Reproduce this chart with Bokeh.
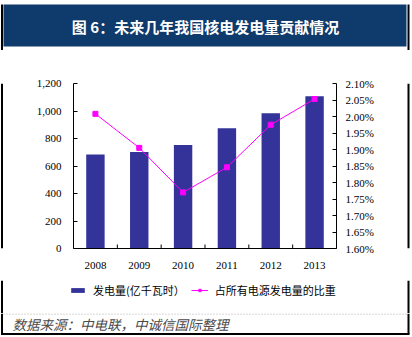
from bokeh.plotting import figure
from bokeh.layouts import column, row
from bokeh.models import (Range1d, LinearAxis, FixedTicker, NumeralTickFormatter,
                          PrintfTickFormatter, Legend, LegendItem, ColumnDataSource)
from bokeh.core.properties import value
from bokeh.transform import dodge
from bokeh.embed import file_html
from bokeh.resources import INLINE

# ---- data ----
years = ["2008", "2009", "2010", "2011", "2012", "2013"]
generation = [684, 701, 752, 875, 983, 1107]            # 发电量(亿千瓦时)
share_pct = [2.008, 1.905, 1.770, 1.846, 1.975, 2.053]  # 占所有电源发电量的比重 (%)
left_ticks = [0, 200, 400, 600, 800, 1000, 1200]
right_ticks = [1.60, 1.65, 1.70, 1.75, 1.80, 1.85, 1.90, 1.95, 2.00, 2.05, 2.10]
title_text = "图 6：未来几年我国核电发电量贡献情况"
source_text = "数据来源：中电联，中诚信国际整理"
bar_label = "发电量(亿千瓦时）"
line_label = "占所有电源发电量的比重"

SERIF = "Liberation Serif"
CJK = "Noto Sans CJK SC"
NAVY = "#0E3A6C"
BAR = "#333399"
LINE = "#FF00FF"


def strip(w, h):
    f = figure(width=w, height=h, x_range=Range1d(0, w), y_range=Range1d(h, 0),
               output_backend="svg", toolbar_location=None,
               x_axis_location=None, y_axis_location=None,
               min_border=0, min_border_left=0, min_border_right=0,
               min_border_top=0, min_border_bottom=0)
    f.outline_line_color = None
    f.xgrid.visible = False
    f.ygrid.visible = False
    f.background_fill_color = "white"
    f.border_fill_color = "white"
    return f


def side_borders(f, h):
    f.segment(x0=[1.5, 408], y0=[0, 0], x1=[1.5, 408], y1=[h, h],
              line_color="black", line_width=2)


# ---- top strip: title bar ----
top = strip(412, 50)
top.quad(left=[3], right=[406], top=[4], bottom=[46], fill_color=NAVY, line_color=None)
top.text(x=[205], y=[25.5], text=[title_text], text_align="center", text_baseline="middle",
         text_font=value(CJK), text_font_size="15px", text_font_style="bold",
         text_color="white")
top.segment(x0=[1.5, 408], y0=[4, 4], x1=[1.5, 408], y1=[50, 50],
            line_color="black", line_width=2)

MAIN_H = 230

# ---- side strips ----
lstrip = strip(5, MAIN_H)
lstrip.segment(x0=[1.5], y0=[0], x1=[1.5], y1=[MAIN_H], line_color="black", line_width=2)
rstrip = strip(10, MAIN_H)
rstrip.segment(x0=[6], y0=[0], x1=[6], y1=[MAIN_H], line_color="black", line_width=2)

# ---- main chart ----
src = ColumnDataSource(dict(year=years, gen=generation, share=share_pct))

p = figure(x_range=years, y_range=Range1d(0, 1200), width=397, height=MAIN_H,
           output_backend="svg", toolbar_location=None,
           min_border_left=68, min_border_right=66, min_border_top=33, min_border_bottom=32,
           background_fill_color="white", border_fill_color="white")
p.outline_line_color = None
p.xgrid.visible = False
p.ygrid.visible = False
p.extra_y_ranges = {"pct": Range1d(1.60, 2.10)}

ya = p.yaxis[0]
ya.ticker = FixedTicker(ticks=left_ticks)
ya.formatter = NumeralTickFormatter(format="0,0")
ya.major_tick_in = 4
ya.major_tick_out = 0
ya.minor_tick_line_color = None
ya.major_label_standoff = 12
ya.major_label_text_font = SERIF
ya.major_label_text_font_size = "11px"
ya.major_label_text_color = "black"
ya.axis_line_color = "black"

ra = LinearAxis(y_range_name="pct", ticker=FixedTicker(ticks=right_ticks),
                formatter=PrintfTickFormatter(format="%.2f%%"))
ra.major_tick_in = 4
ra.major_tick_out = 0
ra.minor_tick_line_color = None
ra.major_label_standoff = 9
ra.major_label_text_font = SERIF
ra.major_label_text_font_size = "11px"
ra.major_label_text_color = "black"
ra.axis_line_color = "black"
p.add_layout(ra, "right")

xa = p.xaxis[0]
xa.major_tick_in = 0
xa.major_tick_out = 0
xa.major_label_standoff = 13
xa.major_label_text_font = SERIF
xa.major_label_text_font_size = "11px"
xa.major_label_text_color = "black"
xa.axis_line_color = "black"

# category-boundary ticks (inward)
tick_len = 4 * 1200 / 165
tsrc = ColumnDataSource(dict(year=years[:-1], y0=[0] * 5, y1=[tick_len] * 5))
p.segment(x0=dodge("year", 0.5, range=p.x_range), y0="y0",
          x1=dodge("year", 0.5, range=p.x_range), y1="y1",
          source=tsrc, line_color="black", line_width=1)

p.vbar(x="year", top="gen", width=0.42, source=src, fill_color=BAR, line_color=None)
p.line(x="year", y="share", source=src, y_range_name="pct", line_color=LINE, line_width=1)
p.scatter(x="year", y="share", source=src, y_range_name="pct",
          marker="square", size=5, fill_color=LINE, line_color=LINE)

# ---- legend strip (legend proxies carry no drawable points) ----
LEG_H = 33
leg = strip(412, LEG_H)
side_borders(leg, LEG_H)
proxy = ColumnDataSource(dict(x=[float("nan")], y=[float("nan")]))
lb = leg.vbar(x="x", top="y", width=1, source=proxy, fill_color=BAR, line_color=None)
ll = leg.line(x="x", y="y", source=proxy, line_color=LINE, line_width=1)
lm = leg.scatter(x="x", y="y", source=proxy, marker="square", size=5,
                 fill_color=LINE, line_color=LINE)
legend = Legend(items=[LegendItem(label=bar_label, renderers=[lb]),
                       LegendItem(label=line_label, renderers=[ll, lm])],
                location=(69, 15), orientation="horizontal",
                glyph_width=17, glyph_height=6, label_height=12,
                label_standoff=7, spacing=6, padding=0, margin=0,
                border_line_color=None, background_fill_alpha=0,
                label_text_font=CJK, label_text_font_size="11px",
                label_text_color="black")
leg.add_layout(legend)

# ---- bottom strip: source ----
bot = strip(412, 24)
bot.segment(x0=[3], y0=[0.5], x1=[407], y1=[0.5], line_color="#999999",
            line_width=1, line_dash="1 2")
bot.text(x=[12], y=[10], text=[source_text], text_align="left", text_baseline="middle",
         text_font=value(CJK), text_font_size="13.5px", text_font_style="italic",
         text_color="#4a4a4a")
bot.segment(x0=[1.5, 408, 0.5], y0=[0, 0, 20.5], x1=[1.5, 408, 409], y1=[20.5, 20.5, 20.5],
            line_color="black", line_width=2)

layout = column(top, row(lstrip, p, rstrip, spacing=0), leg, bot, spacing=0)
open("out.html", "w").write(file_html(layout, INLINE))
